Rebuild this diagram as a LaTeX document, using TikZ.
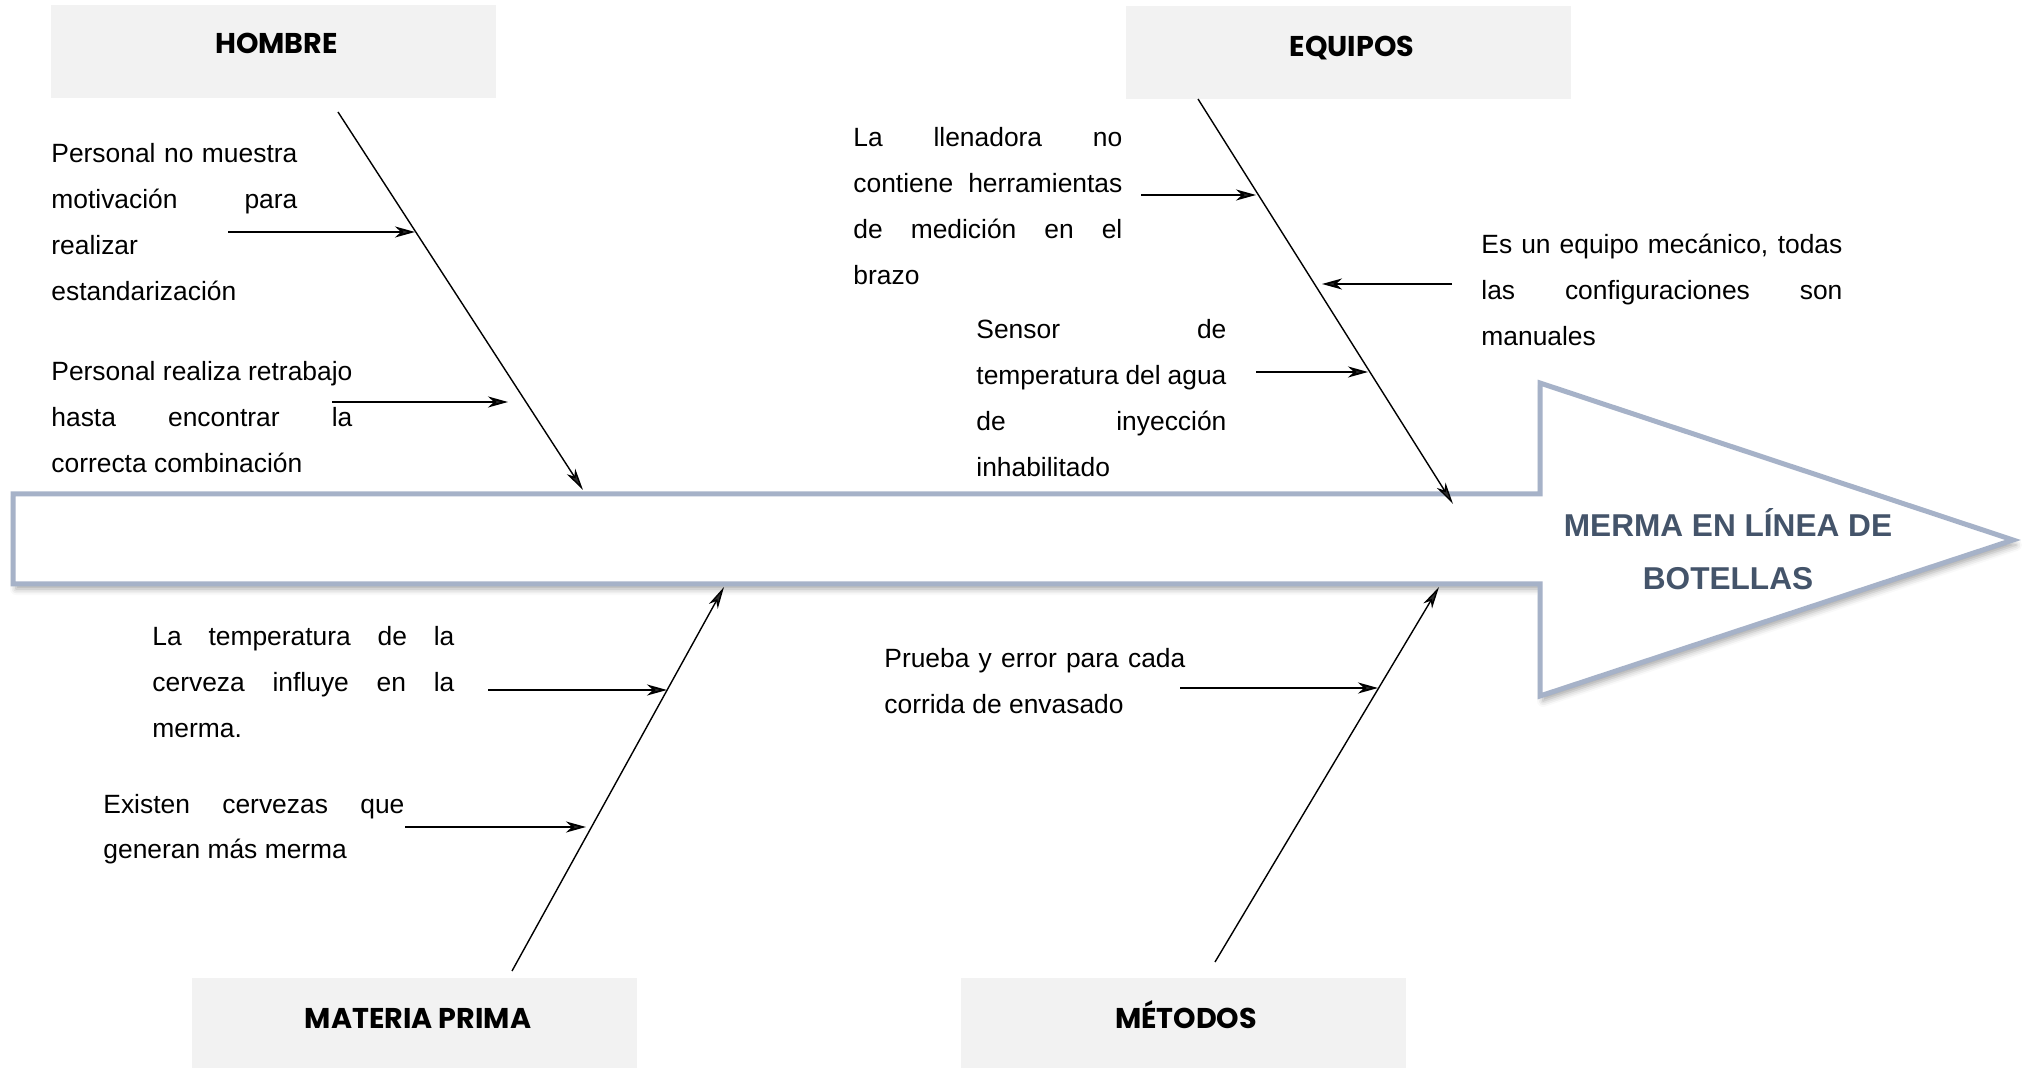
\documentclass[tikz,border=0pt]{standalone}
\usepackage{fontspec}
\setmainfont{Liberation Sans}
\newfontfamily\catfont{Poppins}
\usetikzlibrary{arrows.meta,shadows.blur}
\definecolor{catgray}{HTML}{F2F2F2}
\definecolor{fishedge}{RGB}{166,178,200}
\definecolor{headtxt}{HTML}{44546A}
\newcommand\jl[2]{\hbox to #1{#2}}
\newcommand\fl[1]{\hbox{#1}}
\newcommand\tblock[1]{\vtop{\baselineskip=22.9pt\relax #1}}
\begin{document}
\begin{tikzpicture}[x=0.5pt,y=-0.5pt,
  catbox/.style={rectangle, fill=catgray, draw=none, minimum width=222.5pt, inner sep=0pt},
  cattext/.style={anchor=base, inner sep=0pt, font=\catfont\bfseries\fontsize{14.3pt}{16pt}\selectfont},
  txt/.style={anchor=base west, inner sep=0pt, font=\fontsize{13.2pt}{22.9pt}\selectfont},
  bone/.style={line width=0.7pt, -{Stealth[length=11pt,width=5pt,inset=3pt]}},
  sub/.style={line width=0.9pt, -{Stealth[length=10pt,width=5.5pt,inset=3pt]}}
]
\useasboundingbox (0,0) rectangle (2024,1068);

% fish body / head
\draw[fishedge, line width=2.5pt, fill=white, line join=miter,
      blur shadow={shadow xshift=1.5pt, shadow yshift=-2.5pt, shadow opacity=35, shadow blur radius=3pt}]
  (13,494) -- (1540,494) -- (1540,383) -- (2013,540) -- (1540,696) -- (1540,584) -- (13,584) -- cycle;
\node[anchor=base, inner sep=0pt, text=headtxt, font=\bfseries\fontsize{15.8pt}{26.5pt}\selectfont] (effect) at (1728,537)
  {\vtop{\baselineskip=26.5pt\relax\hbox to 200pt{\hss MERMA EN LÍNEA DE\hss}\hbox to 200pt{\hss BOTELLAS\hss}}};

% category boxes
\node[catbox, minimum height=46.5pt] (hombre) at (273.5,51.5) {};
\node[cattext] (hombreT) at (276.5,54) {HOMBRE};
\node[catbox, minimum height=46.5pt] (equipos) at (1348.5,52.5) {};
\node[cattext] (equiposT) at (1352,57) {EQUIPOS};
\node[catbox, minimum height=45pt] (materia) at (414,1023) {};
\node[cattext] (materiaT) at (418,1028) {MATERIA PRIMA};
\node[catbox, minimum height=45pt] (metodos) at (1183.5,1023) {};
\node[cattext] (metodosT) at (1186,1028) {MÉTODOS};

% bone end points
\coordinate (hbS) at (338,112);  \coordinate (hbE) at (583,490);
\coordinate (eqS) at (1198,99);  \coordinate (eqE) at (1453,504);
\coordinate (mpS) at (512,971);  \coordinate (mpE) at (724,587);
\coordinate (meS) at (1215,962); \coordinate (meE) at (1439,587);
\draw[bone] (hbS) -- (hbE);
\draw[bone] (eqS) -- (eqE);
\draw[bone] (mpS) -- (mpE);
\draw[bone] (meS) -- (meE);

% cause texts
\node[txt] (h1) at (51,163) {\tblock{\jl{123pt}{Personal no muestra}\jl{123pt}{motivación para}\fl{realizar}\fl{estandarización}}};
\node[txt] (h2) at (51,381) {\tblock{\jl{150.5pt}{Personal realiza retrabajo}\jl{150.5pt}{hasta encontrar la}\fl{correcta combinación}}};
\node[txt] (e1) at (853,147) {\tblock{\jl{134.5pt}{La llenadora no}\jl{134.5pt}{contiene herramientas}\jl{134.5pt}{de medición en el}\fl{brazo}}};
\node[txt] (e2) at (1481,254) {\tblock{\jl{180.5pt}{Es un equipo mecánico, todas}\jl{180.5pt}{las configuraciones son}\fl{manuales}}};
\node[txt] (e3) at (976,339) {\tblock{\jl{125pt}{Sensor de}\jl{125pt}{temperatura del agua}\jl{125pt}{de inyección}\fl{inhabilitado}}};
\node[txt] (m1) at (152,646) {\tblock{\jl{151pt}{La temperatura de la}\jl{151pt}{cerveza influye en la}\fl{merma.}}};
\node[txt] (m2) at (103,813) {\tblock{\jl{150.5pt}{Existen cervezas que}\fl{generan más merma}}};
\node[txt] (me1) at (884,668) {\tblock{\jl{150.5pt}{Prueba y error para cada}\fl{corrida de envasado}}};

% cause arrows
\coordinate (h1s) at (228,232);  \coordinate (h1e) at (415,232);
\coordinate (h2s) at (332,402);  \coordinate (h2e) at (508,402);
\coordinate (e1s) at (1141,195); \coordinate (e1e) at (1256,195);
\coordinate (e2s) at (1452,284); \coordinate (e2e) at (1322,284);
\coordinate (e3s) at (1256,372); \coordinate (e3e) at (1368,372);
\coordinate (m1s) at (488,690);  \coordinate (m1e) at (667,690);
\coordinate (m2s) at (405,827);  \coordinate (m2e) at (586,827);
\coordinate (me1s) at (1180,688); \coordinate (me1e) at (1378,688);
\draw[sub] (h1s) -- (h1e);
\draw[sub] (h2s) -- (h2e);
\draw[sub] (e1s) -- (e1e);
\draw[sub] (e2s) -- (e2e);
\draw[sub] (e3s) -- (e3e);
\draw[sub] (m1s) -- (m1e);
\draw[sub] (m2s) -- (m2e);
\draw[sub] (me1s) -- (me1e);
\end{tikzpicture}
\end{document}
